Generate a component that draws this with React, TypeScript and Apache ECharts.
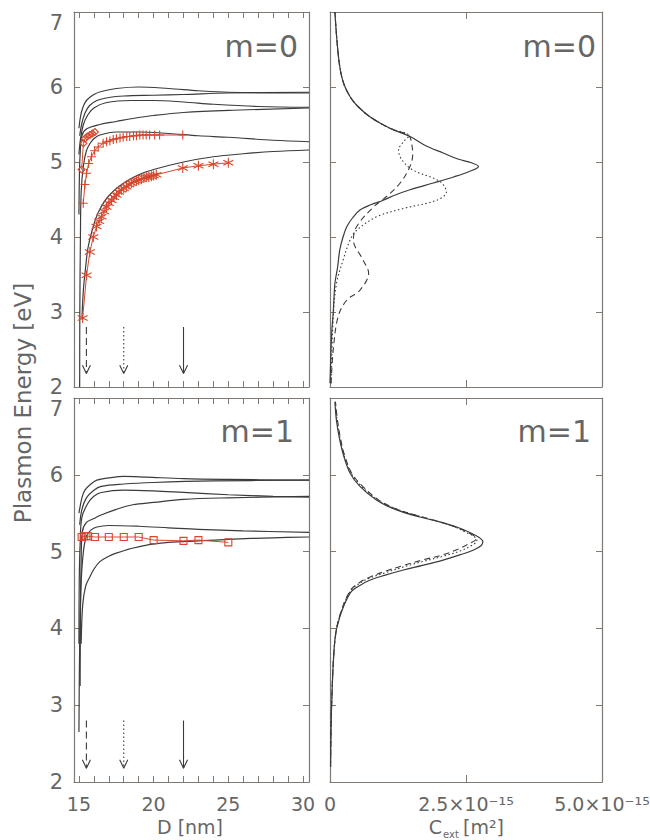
import React, { useEffect, useRef } from "react";
import * as echarts from "echarts";

// ---------- tick labels ----------
const dTickLabels = [15, 20, 25, 30];
const dMinorTicks = [15, 16, 17, 18, 19, 20, 21, 22, 23, 24, 25, 26, 27, 28, 29, 30];
const energyTicks = [2, 3, 4, 5, 6, 7];
const energyLabelsMain = [2, 3, 4, 5, 6];
const energyLabelsTop = [7];
const cTickValues = [0, 2.5, 5];
const cTickLabels = ["0", "2.5×10⁻¹⁵", "5.0×10⁻¹⁵"];
const panelLabels = ["m=0", "m=0", "m=1", "m=1"];

// ---------- m=0 dispersion (D [nm], E [eV]) ----------
const m0Mode1 = [[15.0, 5.45], [15.1, 5.6], [15.25, 5.72], [15.5, 5.82], [16, 5.9], [16.5, 5.94], [17.5, 5.98], [19, 6.0], [21, 5.98], [23, 5.95], [25, 5.93], [30.4, 5.92]];
const m0Mode2 = [[15.05, 5.35], [15.2, 5.52], [15.4, 5.65], [15.7, 5.75], [16.2, 5.82], [17, 5.86], [18, 5.88], [20, 5.89], [22, 5.9], [25, 5.92], [30.4, 5.93]];
const m0Mode3 = [[15.0, 5.1], [15.1, 5.3], [15.3, 5.5], [15.6, 5.63], [16, 5.72], [16.8, 5.79], [18.5, 5.82], [20, 5.82], [22, 5.8], [24, 5.77], [27, 5.74], [30.4, 5.73]];
const m0Mode4 = [[15.0, 4.3], [15.03, 4.8], [15.08, 5.1], [15.2, 5.35], [15.5, 5.44], [16.4, 5.5], [17.5, 5.54], [18.6, 5.58], [20, 5.62], [22, 5.66], [25.3, 5.69], [30.4, 5.72]];
const m0Mode5 = [[15.05, 2.0], [15.06, 3.0], [15.1, 4.0], [15.15, 4.6], [15.3, 4.95], [15.5, 5.15], [15.75, 5.25], [16, 5.31], [16.4, 5.36], [17.5, 5.4], [19, 5.4], [21, 5.38], [23, 5.35], [25, 5.33], [28, 5.29], [30.4, 5.27]];
const m0Mode6 = [[15.2, 2.9], [15.3, 3.3], [15.45, 3.6], [15.6, 3.85], [15.9, 4.1], [16.3, 4.33], [17, 4.55], [18, 4.72], [19, 4.83], [20, 4.9], [22, 5.0], [24, 5.07], [26, 5.11], [28, 5.14], [30.4, 5.16]];

const m0Diamonds = [[15.18, 4.9], [15.3, 5.25], [15.4, 5.31], [15.55, 5.34], [15.73, 5.36], [15.9, 5.38], [16.07, 5.4]];
const m0Plus = [[15.29, 4.45], [15.4, 4.7], [15.51, 4.85], [15.65, 4.98], [15.84, 5.07], [16.05, 5.15], [16.29, 5.2], [16.62, 5.25], [16.85, 5.27], [17.07, 5.28], [17.3, 5.3], [17.51, 5.31], [17.75, 5.32], [17.96, 5.33], [18.2, 5.34], [18.4, 5.34], [18.65, 5.35], [18.85, 5.35], [19.07, 5.36], [19.29, 5.36], [19.5, 5.36], [19.73, 5.36], [20.07, 5.36], [20.4, 5.36], [21.95, 5.36]];
const m0Stars = [[15.25, 2.92], [15.51, 3.49], [15.73, 3.8], [15.96, 4.0], [16.18, 4.14], [16.35, 4.21], [16.51, 4.27], [16.68, 4.34], [16.84, 4.4], [17.0, 4.45], [17.18, 4.49], [17.35, 4.53], [17.51, 4.56], [17.68, 4.6], [17.84, 4.63], [18.0, 4.65], [18.18, 4.67], [18.35, 4.7], [18.51, 4.72], [18.68, 4.74], [18.85, 4.75], [19.0, 4.76], [19.18, 4.77], [19.35, 4.79], [19.51, 4.8], [19.68, 4.8], [19.85, 4.81], [20.0, 4.82], [20.18, 4.83], [21.95, 4.92], [23.0, 4.95], [24.0, 4.97], [25.0, 4.99]];

// ---------- m=1 dispersion ----------
const m1Mode1 = [[15.0, 5.5], [15.2, 5.7], [15.4, 5.8], [15.8, 5.88], [16.2, 5.93], [17, 5.96], [18, 5.98], [19.5, 5.97], [22, 5.95], [25, 5.94], [30.4, 5.93]];
const m1Mode2 = [[15.05, 5.35], [15.2, 5.55], [15.5, 5.7], [16, 5.8], [16.5, 5.85], [18, 5.88], [20, 5.9], [24, 5.92], [30.4, 5.93]];
const m1Mode3 = [[15.0, 3.8], [15.02, 4.6], [15.08, 5.1], [15.2, 5.45], [15.6, 5.63], [16, 5.72], [16.5, 5.77], [18, 5.8], [20, 5.79], [22, 5.77], [25, 5.74], [28, 5.72], [30.4, 5.71]];
const m1Mode4 = [[15.08, 3.25], [15.1, 4.2], [15.15, 4.9], [15.22, 5.25], [15.5, 5.38], [16, 5.43], [16.4, 5.47], [17.5, 5.55], [18.6, 5.61], [20, 5.64], [22, 5.68], [25, 5.7], [30.4, 5.72]];
const m1Mode5 = [[15.0, 2.65], [15.05, 3.8], [15.15, 4.6], [15.3, 5.0], [15.5, 5.2], [15.8, 5.28], [16.2, 5.32], [17, 5.34], [19, 5.33], [21, 5.31], [23, 5.29], [26, 5.27], [30.4, 5.25]];
const m1Mode6 = [[15.15, 3.8], [15.25, 4.3], [15.45, 4.55], [15.73, 4.67], [16, 4.77], [16.4, 4.87], [17, 4.94], [17.5, 4.98], [18.5, 5.04], [19.7, 5.09], [21, 5.12], [23, 5.14], [25, 5.16], [28, 5.18], [30.4, 5.19]];
const m1Squares = [[15.18, 5.19], [15.35, 5.2], [15.5, 5.2], [15.62, 5.2], [16.07, 5.19], [17.0, 5.19], [18.0, 5.19], [19.0, 5.19], [20.0, 5.15], [22.0, 5.14], [23.0, 5.15], [25.0, 5.12]];

// ---------- arrows (D positions) ----------
const arrowD = [15.5, 18, 22];
const arrowTopE = 2.8;
const arrowTipE = 2.18;

// ---------- extinction spectra (C_ext [1e-15 m^2], E [eV]) ----------
const m0SpecSolid = [[0.0, 2.05], [0.03, 2.7], [0.06, 3.0], [0.09, 3.38], [0.14, 3.6], [0.18, 3.83], [0.24, 4.0], [0.31, 4.14], [0.42, 4.26], [0.55, 4.36], [0.75, 4.43], [0.98, 4.49], [1.2, 4.56], [1.47, 4.63], [1.9, 4.72], [2.27, 4.8], [2.55, 4.87], [2.73, 4.94], [2.6, 4.99], [2.35, 5.04], [2.08, 5.12], [1.75, 5.22], [1.47, 5.34], [1.1, 5.45], [0.74, 5.6], [0.5, 5.75], [0.37, 5.87], [0.25, 6.05], [0.18, 6.27], [0.13, 6.6], [0.09, 7.0]];
const m0SpecDashed = [[0.02, 2.05], [0.06, 2.5], [0.15, 2.94], [0.31, 3.16], [0.55, 3.29], [0.71, 3.52], [0.61, 3.69], [0.43, 3.96], [0.49, 4.14], [0.8, 4.4], [1.04, 4.54], [1.29, 4.72], [1.47, 4.94], [1.52, 5.1], [1.5, 5.25], [1.45, 5.35], [1.1, 5.45], [0.74, 5.6], [0.5, 5.75], [0.37, 5.87], [0.25, 6.05], [0.18, 6.27], [0.13, 6.6], [0.09, 7.0]];
const m0SpecDotted = [[0.02, 2.05], [0.06, 2.94], [0.12, 3.38], [0.24, 3.69], [0.37, 3.96], [0.49, 4.09], [0.86, 4.27], [1.35, 4.38], [1.96, 4.49], [2.14, 4.6], [2.02, 4.74], [1.53, 4.89], [1.32, 5.03], [1.26, 5.16], [1.35, 5.27], [1.45, 5.35], [1.1, 5.45], [0.74, 5.6], [0.5, 5.75], [0.37, 5.87], [0.25, 6.05], [0.18, 6.27], [0.13, 6.6], [0.09, 7.0]];

const m1SpecSolid = [[0.01, 2.2], [0.03, 3.0], [0.09, 3.85], [0.18, 4.15], [0.37, 4.46], [0.55, 4.56], [0.74, 4.63], [1.0, 4.69], [1.35, 4.76], [1.7, 4.82], [2.08, 4.89], [2.4, 4.96], [2.64, 5.02], [2.78, 5.08], [2.81, 5.13], [2.75, 5.18], [2.6, 5.24], [2.33, 5.32], [2.0, 5.39], [1.65, 5.45], [1.2, 5.55], [0.86, 5.67], [0.55, 5.85], [0.37, 6.02], [0.25, 6.25], [0.18, 6.45], [0.12, 6.7], [0.09, 6.95]];
const m1SpecDashed = [[0.01, 2.2], [0.03, 3.0], [0.09, 3.85], [0.18, 4.17], [0.37, 4.49], [0.55, 4.6], [0.74, 4.67], [1.0, 4.74], [1.35, 4.82], [1.7, 4.89], [2.08, 4.96], [2.35, 5.03], [2.55, 5.1], [2.68, 5.16], [2.66, 5.2], [2.5, 5.26], [2.3, 5.32], [2.0, 5.39], [1.65, 5.46], [1.2, 5.56], [0.9, 5.67], [0.6, 5.85], [0.4, 6.02], [0.27, 6.25], [0.2, 6.45], [0.14, 6.7], [0.1, 6.95]];
const m1SpecDotted = [[0.01, 2.2], [0.03, 3.0], [0.09, 3.85], [0.18, 4.16], [0.37, 4.48], [0.55, 4.59], [0.74, 4.66], [1.0, 4.72], [1.35, 4.8], [1.7, 4.87], [2.08, 4.94], [2.4, 5.01], [2.6, 5.08], [2.7, 5.14], [2.66, 5.19], [2.5, 5.25], [2.3, 5.32], [2.0, 5.39], [1.65, 5.46], [1.2, 5.56], [0.88, 5.67], [0.58, 5.85], [0.39, 6.02], [0.26, 6.25], [0.19, 6.45], [0.13, 6.7], [0.1, 6.95]];

// ---------- styles ----------
const AXIS = "#7f7873";
const INK = "#3b3b3b";
const RED = "#d6482e";
const TEXT = "#666666";
const FONT = "DejaVu Sans";

const STAR = "path://M0,-5L0,5M-4.33,-2.5L4.33,2.5M-4.33,2.5L4.33,-2.5";
const PLUS = "path://M0,-5L0,5M-5,0L5,0";

function curve(data: number[][], g: number, type: any = "solid", width = 1.2) {
  return {
    type: "line",
    xAxisIndex: g,
    yAxisIndex: g,
    data,
    smooth: 0.35,
    symbol: "none",
    silent: true,
    lineStyle: { color: INK, width, type },
    z: 2,
  };
}

function redSeries(data: number[][], g: number, symbol: string, size: number) {
  return {
    type: "line",
    xAxisIndex: g,
    yAxisIndex: g,
    data,
    symbol,
    symbolSize: size,
    showSymbol: true,
    silent: true,
    lineStyle: { color: RED, width: 1 },
    itemStyle: { color: "rgba(0,0,0,0)", borderColor: RED, borderWidth: 1.1 },
    z: 3,
  };
}

function arrows(g: number) {
  const styles: any[] = [[7, 4], [1.5, 2.5], "solid"];
  const out: any[] = [];
  arrowD.forEach((d, i) => {
    out.push({
      type: "line", xAxisIndex: g, yAxisIndex: g, symbol: "none", silent: true,
      data: [[d, arrowTopE], [d, arrowTipE]],
      lineStyle: { color: INK, width: 1.1, type: styles[i] },
    });
    out.push({
      type: "line", xAxisIndex: g, yAxisIndex: g, symbol: "none", silent: true,
      data: [[d - 0.27, arrowTipE + 0.11], [d, arrowTipE], [d + 0.27, arrowTipE + 0.11]],
      lineStyle: { color: INK, width: 1.1 },
    });
  });
  return out;
}

const grids = [
  { left: 74, top: 12, width: 235, height: 375 },
  { left: 330, top: 12, width: 272, height: 375 },
  { left: 74, top: 398, width: 235, height: 384 },
  { left: 330, top: 398, width: 272, height: 384 },
];

function xAxisFor(g: number, position: "bottom" | "top") {
  const isD = g === 0 || g === 2;
  const showLabel = position === "bottom" && g >= 2;
  return {
    type: "value",
    gridIndex: g,
    position,
    min: isD ? 14.67 : 0,
    max: isD ? 30.4 : 5,
    axisLine: { show: true, onZero: false, lineStyle: { color: AXIS, width: 1.2 } },
    axisTick: {
      show: true,
      inside: true,
      length: isD ? 6 : 7,
      customValues: isD ? dMinorTicks : [2.5],
      lineStyle: { color: AXIS, width: 1 },
    },
    axisLabel: {
      show: showLabel,
      customValues: isD ? dTickLabels : cTickValues,
      showMinLabel: true,
      showMaxLabel: true,
      margin: 12,
      fontSize: 19,
      fontFamily: FONT,
      color: TEXT,
      formatter: (v: number) => {
        if (isD) return String(v);
        const idx = cTickValues.indexOf(v);
        return idx >= 0 ? cTickLabels[idx] : "";
      },
    },
    splitLine: { show: false },
  };
}

function yAxisFor(g: number, position: "left" | "right") {
  const showLabel = position === "left" && (g === 0 || g === 2);
  return {
    type: "value",
    gridIndex: g,
    position,
    min: energyTicks[0],
    max: energyTicks[energyTicks.length - 1],
    interval: 1,
    axisLine: { show: true, onZero: false, lineStyle: { color: AXIS, width: 1.2 } },
    axisTick: { show: true, inside: true, length: 6, lineStyle: { color: AXIS, width: 1 } },
    axisLabel: {
      show: showLabel,
      customValues: energyLabelsMain,
      margin: 11,
      fontSize: 21,
      lineHeight: 20,
      fontFamily: FONT,
      color: TEXT,
      showMinLabel: true,
      showMaxLabel: true,
    },
    splitLine: { show: false },
  };
}

// extra label-only axis for the top "7" labels (IDL draws them below the top edge)
function yTopLabelAxis(g: number) {
  return {
    type: "value",
    gridIndex: g,
    position: "left",
    min: energyTicks[0],
    max: energyTicks[energyTicks.length - 1],
    interval: 1,
    axisLine: { show: false },
    axisTick: { show: false },
    splitLine: { show: false },
    axisLabel: {
      show: true,
      customValues: energyLabelsTop,
      verticalAlign: "top",
      margin: 11,
      fontSize: 21,
      lineHeight: 22,
      fontFamily: FONT,
      color: TEXT,
      showMinLabel: true,
      showMaxLabel: true,
    },
  };
}

export default function App() {
  const ref = useRef<HTMLDivElement>(null);
  useEffect(() => {
    if (!ref.current) return;
    const chart = echarts.init(ref.current, undefined, { renderer: "svg" });

    const series: any[] = [
      // m=0 dispersion
      curve(m0Mode1, 0), curve(m0Mode2, 0), curve(m0Mode3, 0),
      curve(m0Mode4, 0), curve(m0Mode5, 0), curve(m0Mode6, 0),
      redSeries(m0Diamonds, 0, "diamond", 7),
      redSeries(m0Plus, 0, PLUS, 9),
      redSeries(m0Stars, 0, STAR, 10),
      ...arrows(0),
      // m=0 spectra
      curve(m0SpecSolid, 1, "solid", 1.2),
      curve(m0SpecDashed, 1, [6, 4], 1.1),
      curve(m0SpecDotted, 1, [1.5, 2.5], 1.1),
      // m=1 dispersion
      curve(m1Mode1, 2), curve(m1Mode2, 2), curve(m1Mode3, 2),
      curve(m1Mode4, 2), curve(m1Mode5, 2), curve(m1Mode6, 2),
      redSeries(m1Squares, 2, "rect", 7),
      ...arrows(2),
      // m=1 spectra
      curve(m1SpecSolid, 3, "solid", 1.2),
      curve(m1SpecDashed, 3, [6, 4], 1.1),
      curve(m1SpecDotted, 3, [1.5, 2.5], 1.1),
    ];

    const labelPos = [
      [298, 46], [596, 46], [294, 431], [591, 431],
    ];

    const graphic: any[] = [
      ...panelLabels.map((t, i) => ({
        type: "text",
        x: labelPos[i][0],
        y: labelPos[i][1],
        silent: true,
        style: { text: t, fontSize: 30, fontFamily: FONT, fill: TEXT, align: "right", verticalAlign: "middle" },
      })),
      {
        type: "text", x: 23, y: 403, rotation: Math.PI / 2, silent: true,
        style: { text: "Plasmon Energy [eV]", fontSize: 23, fontFamily: FONT, fill: TEXT, align: "center", verticalAlign: "middle" },
      },
      {
        type: "text", x: 190, y: 827, silent: true,
        style: { text: "D [nm]", fontSize: 19, fontFamily: FONT, fill: TEXT, align: "center", verticalAlign: "middle" },
      },
      {
        type: "text", x: 442, y: 827, silent: true,
        style: { text: "C", fontSize: 19, fontFamily: FONT, fill: TEXT, align: "right", verticalAlign: "middle" },
      },
      {
        type: "text", x: 443, y: 834, silent: true,
        style: { text: "ext", fontSize: 10, fontFamily: FONT, fill: TEXT, align: "left", verticalAlign: "middle" },
      },
      {
        type: "text", x: 463, y: 827, silent: true,
        style: { text: "[m²]", fontSize: 19, fontFamily: FONT, fill: TEXT, align: "left", verticalAlign: "middle" },
      },
    ];

    chart.setOption({
      animation: false,
      backgroundColor: "#ffffff",
      grid: grids.map((g) => ({ ...g, containLabel: false, outerBoundsMode: "none" })),
      xAxis: [0, 1, 2, 3].map((g) => xAxisFor(g, "bottom")).concat([0, 1, 2, 3].map((g) => xAxisFor(g, "top"))),
      yAxis: [0, 1, 2, 3]
        .map((g) => yAxisFor(g, "left"))
        .concat([0, 1, 2, 3].map((g) => yAxisFor(g, "right")))
        .concat([yTopLabelAxis(0), yTopLabelAxis(2)] as any),
      series,
      graphic,
    });

    return () => chart.dispose();
  }, []);

  return <div ref={ref} style={{ position: "absolute", left: 0, top: 0, width: 650, height: 840 }} />;
}
